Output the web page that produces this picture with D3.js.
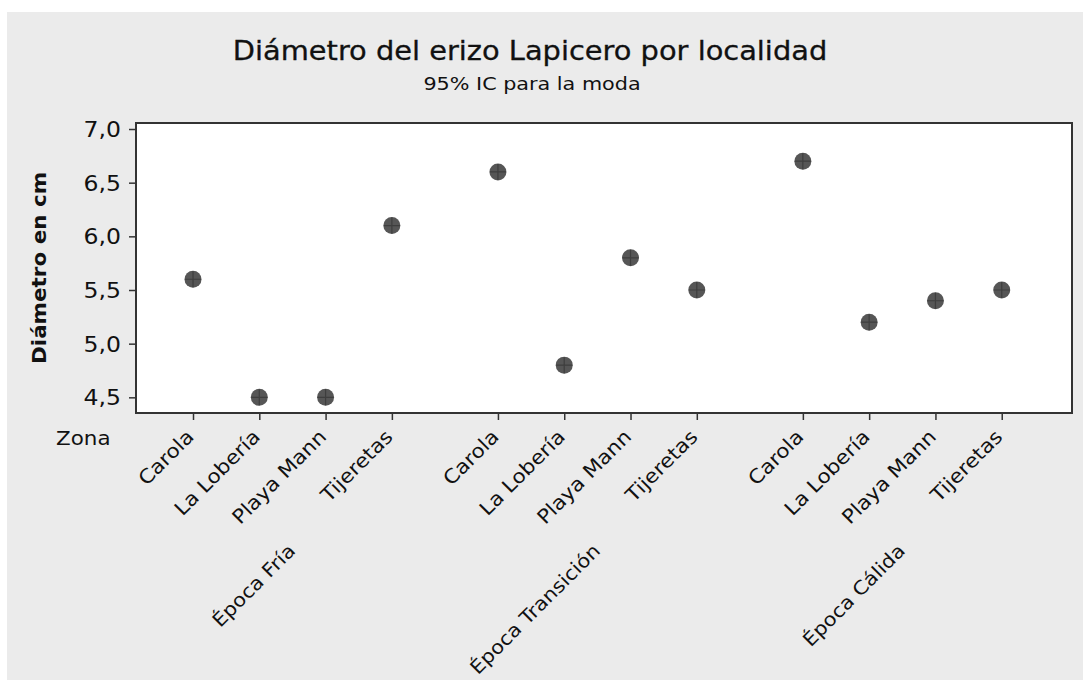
<!DOCTYPE html>
<html>
<head>
<meta charset="utf-8">
<script src="https://cdn.jsdelivr.net/npm/d3@7"></script>
<style>
  html, body { margin: 0; padding: 0; background: #ffffff; }
  svg { display: block; }
  text { font-family: "DejaVu Sans", Verdana, sans-serif; fill: #111; }
</style>
</head>
<body>
<script>
// Modal diameter of the pencil urchin per site and season
const seasons = ["Época Fría", "Época Transición", "Época Cálida"];
const sites = ["Carola", "La Lobería", "Playa Mann", "Tijeretas"];
const valuesFria = [5.6, 4.5, 4.5, 6.1];
const valuesTransicion = [6.6, 4.8, 5.8, 5.5];
const valuesCalida = [6.7, 5.2, 5.4, 5.5];
const yTicks = [4.5, 5.0, 5.5, 6.0, 6.5, 7.0];

const seriesBySeason = [valuesFria, valuesTransicion, valuesCalida];

const W = 1085, H = 680;
const panel = { x: 7, y: 12, w: 1076, h: 668 };
const plot = { left: 136, top: 123, right: 1072, bottom: 413 };
const groupGap = 0.6;

// flatten to one record per site/season
const records = [];
seriesBySeason.forEach((vals, g) => {
  vals.forEach((v, i) => {
    records.push({ season: seasons[g], site: sites[i], g, i, pos: g * (sites.length + groupGap) + i, value: v });
  });
});

const x = d3.scaleLinear().domain([-0.86, 13.26]).range([plot.left, plot.right]);
const y = d3.scaleLinear().domain([4.354, 7.056]).range([plot.bottom, plot.top]);

// widen a text run along its baseline by a factor (wide UI-style lettering)
function widen(sel, factor) {
  sel.each(function () {
    const len = this.getComputedTextLength();
    d3.select(this).attr("textLength", len * factor).attr("lengthAdjust", "spacingAndGlyphs");
  });
}

const svg = d3.select("body").append("svg").attr("width", W).attr("height", H);

svg.append("rect").attr("x", panel.x).attr("y", panel.y)
  .attr("width", panel.w).attr("height", panel.h).attr("fill", "#ebebeb");

svg.append("rect").attr("x", plot.left).attr("y", plot.top)
  .attr("width", plot.right - plot.left).attr("height", plot.bottom - plot.top)
  .attr("fill", "#ffffff");

// Titles
svg.append("text").attr("x", 530).attr("y", 60).attr("text-anchor", "middle")
  .style("font-size", "26px").attr("stroke", "#111").attr("stroke-width", 0.3)
  .text("Diámetro del erizo Lapicero por localidad")
  .call(widen, 1.11);
svg.append("text").attr("x", 532).attr("y", 90).attr("text-anchor", "middle")
  .style("font-size", "18.5px").text("95% IC para la moda")
  .call(widen, 1.12);

// Y axis
const yAxis = d3.axisLeft(y).tickValues(yTicks).tickSize(7).tickPadding(8)
  .tickFormat(d => d3.format(".1f")(d).replace(".", ","));
const gy = svg.append("g").attr("transform", `translate(${plot.left},0)`).call(yAxis);
gy.select(".domain").remove();
gy.selectAll("line").attr("stroke", "#333").attr("stroke-width", 1.5);
gy.selectAll("text").style("font-size", "21px").attr("fill", "#222").attr("dy", "0.36em")
  .style("font-family", "\"DejaVu Sans\", sans-serif").call(widen, 1.12);

svg.append("text")
  .attr("transform", `translate(46,${(plot.top + plot.bottom) / 2 + 0}) rotate(-90)`)
  .attr("text-anchor", "middle").style("font-size", "19px").style("font-weight", "bold")
  .text("Diámetro en cm")
  .call(widen, 1.13);

// X axis ticks
const xAxis = d3.axisBottom(x).tickValues(records.map(d => d.pos)).tickSize(7).tickFormat("");
const gx = svg.append("g").attr("transform", `translate(0,${plot.bottom})`).call(xAxis);
gx.select(".domain").remove();
gx.selectAll("line").attr("stroke", "#333").attr("stroke-width", 1.5);

svg.selectAll("text.site").data(records).join("text").attr("class", "site")
  .attr("text-anchor", "end")
  .attr("transform", d => `translate(${x(d.pos) + 2},${plot.bottom + 25}) rotate(-45)`)
  .style("font-size", "19.5px").text(d => d.site)
  .call(widen, 1.1);

svg.selectAll("text.season").data(seasons).join("text").attr("class", "season")
  .attr("text-anchor", "end")
  .attr("transform", (s, g) => {
    const c = (x(g * (sites.length + groupGap)) + x(g * (sites.length + groupGap) + sites.length - 1)) / 2;
    return `translate(${c + 4},${plot.bottom + 139}) rotate(-45)`;
  })
  .style("font-size", "19px").text(s => s)
  .call(widen, 1.1);

svg.append("text").attr("x", 56).attr("y", 445).style("font-size", "19.5px").attr("fill", "#222")
  .text("Zona").call(widen, 1.1);

// Plot frame
svg.append("rect").attr("x", plot.left).attr("y", plot.top)
  .attr("width", plot.right - plot.left).attr("height", plot.bottom - plot.top)
  .attr("fill", "none").attr("stroke", "#333").attr("stroke-width", 2);

// Points: filled disc with a cross
const pts = svg.append("g").selectAll("g").data(records).join("g")
  .attr("transform", d => `translate(${x(d.pos)},${y(d.value)})`);
pts.append("circle").attr("r", 8.5).attr("fill", "#565656");
pts.append("path").attr("d", "M-8,0H8M0,-8V8").attr("stroke", "#3e3e3e").attr("stroke-width", 1.2);
</script>
</body>
</html>
